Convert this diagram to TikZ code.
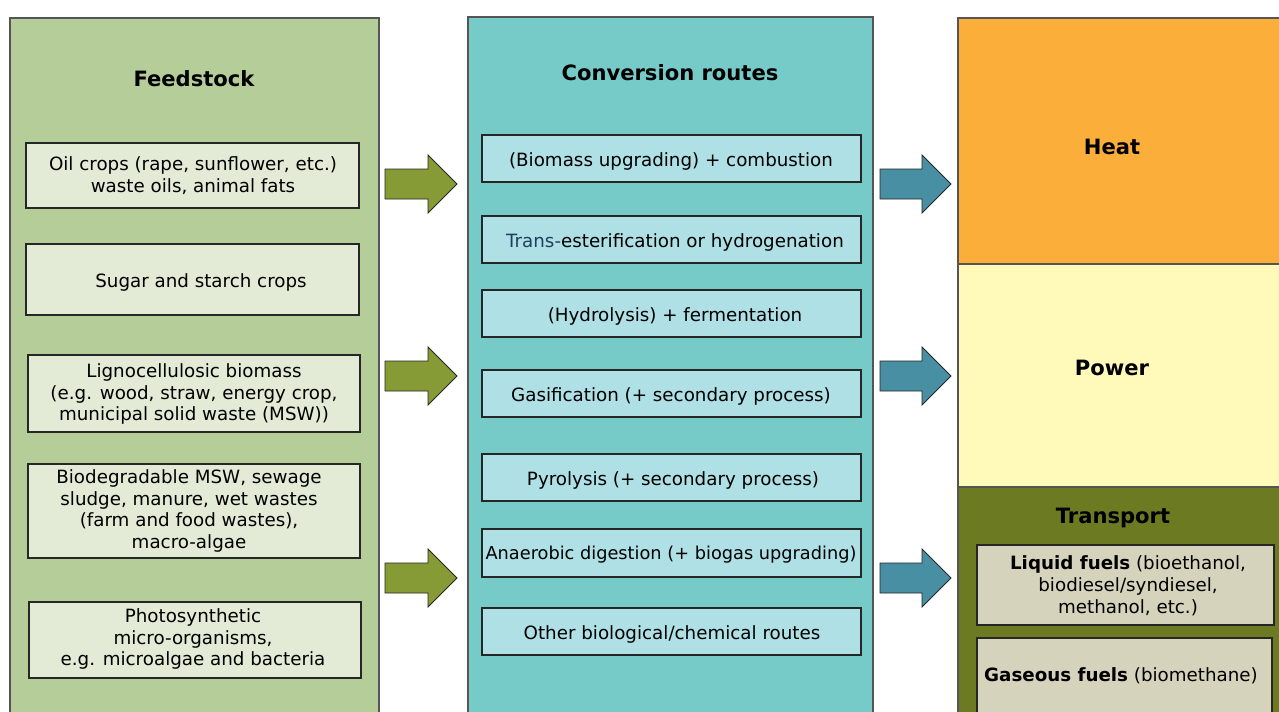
\documentclass[tikz,border=0pt]{standalone}
\usepackage{fontspec}
\setmainfont{DejaVu Sans}
\usetikzlibrary{fit}
\definecolor{fpanel}{HTML}{B5CD99}
\definecolor{fbox}{HTML}{E3EBD6}
\definecolor{cpanel}{HTML}{76CBC8}
\definecolor{cbox}{HTML}{AEE0E5}
\definecolor{heatc}{HTML}{FBAF3A}
\definecolor{powerc}{HTML}{FFF9BA}
\definecolor{transc}{HTML}{6C7A22}
\definecolor{tbox}{HTML}{D6D3BC}
\definecolor{garrow}{HTML}{869B35}
\definecolor{tarrow}{HTML}{488FA3}
\definecolor{transblue}{HTML}{1F3F5F}
\definecolor{edge}{HTML}{555555}
\begin{document}
\begin{tikzpicture}[x=0.02cm,y=-0.02cm,
  panel/.style={draw=edge, line width=0.6pt},
  boxst/.style={draw=black!85, line width=0.6pt, inner sep=0pt},
  txt/.style={inner sep=0pt, align=center, font=\fontsize{10.4}{12.4}\selectfont},
  ttl/.style={font=\fontsize{12}{14}\selectfont\bfseries, inner sep=0pt},
  blockarrow/.style={draw=black!85, line width=0.5pt}]
\useasboundingbox (0,0) rectangle (1279,711);
\clip (0,0) rectangle (1279,711);
% panels
\node[panel, fill=fpanel, fit={(10,18)(379,720)}, inner sep=0pt] (feed) {};
\node[panel, fill=cpanel, fit={(468,17)(873,720)}, inner sep=0pt] (conv) {};
\node[panel, fill=heatc, fit={(958,18)(1290,264)}, inner sep=0pt] (heat) {};
\node[panel, fill=powerc, fit={(958,264)(1290,487)}, inner sep=0pt] (power) {};
\node[panel, fill=transc, fit={(958,487)(1290,720)}, inner sep=0pt] (trans) {};
% titles
\node[ttl] (tfeed) at (194,79) {Feedstock};
\node[ttl] (tconv) at (670,73) {Conversion routes};
\node[ttl] (theat) at (1112,147) {Heat};
\node[ttl] (tpower) at (1112,368) {Power};
\node[ttl] (ttrans) at (1113,518) {Transport};
% feedstock boxes
\node[boxst, fill=fbox, fit={(26,143)(359,208)}] (f1) {};
\node[txt] (f1t) at (193,176) {Oil crops (rape, sunflower, etc.)\\waste oils, animal fats};
\node[boxst, fill=fbox, fit={(26,244)(359,315)}] (f2) {};
\node[txt] (f2t) at (201,282) {Sugar and starch crops};
\node[boxst, fill=fbox, fit={(28,355)(360,432)}] (f3) {};
\node[txt] (f3t) at (194,394) {Lignocellulosic biomass\\(e.g. wood, straw, energy crop,\\municipal solid waste (MSW))};
\node[boxst, fill=fbox, fit={(28,464)(360,558)}] (f4) {};
\node[txt] (f4t) at (189,511) {Biodegradable MSW, sewage\\sludge, manure, wet wastes\\(farm and food wastes),\\macro-algae};
\node[boxst, fill=fbox, fit={(29,602)(361,678)}] (f5) {};
\node[txt] (f5t) at (193,639) {Photosynthetic\\micro-organisms,\\e.g. microalgae and bacteria};
% conversion boxes
\node[boxst, fill=cbox, fit={(482,135)(861,182)}] (c1) {};
\node[txt] (c1t) at (671,161) {(Biomass upgrading) + combustion};
\node[boxst, fill=cbox, fit={(482,216)(861,263)}] (c2) {};
\node[txt] (c2t) at (675,242) {\textcolor{transblue}{Trans-}esterification or hydrogenation};
\node[boxst, fill=cbox, fit={(482,290)(861,337)}] (c3) {};
\node[txt] (c3t) at (675,316) {(Hydrolysis) + fermentation};
\node[boxst, fill=cbox, fit={(482,370)(861,417)}] (c4) {};
\node[txt] (c4t) at (671,396) {Gasification (+ secondary process)};
\node[boxst, fill=cbox, fit={(482,454)(861,501)}] (c5) {};
\node[txt] (c5t) at (673,480) {Pyrolysis (+ secondary process)};
\node[boxst, fill=cbox, fit={(482,529)(861,577)}] (c6) {};
\node[txt, font=\fontsize{10.1}{12.4}\selectfont] (c6t) at (671,555) {Anaerobic digestion (+ biogas upgrading)};
\node[boxst, fill=cbox, fit={(482,608)(861,655)}] (c7) {};
\node[txt] (c7t) at (672,634) {Other biological/chemical routes};
% transport boxes
\node[boxst, fill=tbox, fit={(977,545)(1274,625)}] (t1) {};
\node[txt] (t1t) at (1128,586) {\textbf{Liquid fuels} (bioethanol,\\biodiesel/syndiesel,\\methanol, etc.)};
\node[boxst, fill=tbox, fit={(977,638)(1272,720)}] (t2) {};
\node[txt] (t2t) at (1121,676) {\textbf{Gaseous fuels} (biomethane)};
% block arrows
\foreach \yc in {184,376,578}{
  \draw[blockarrow, fill=garrow, shift={(0,\yc)}]
    (385,-15) -- (428,-15) -- (428,-29) -- (457,0) -- (428,29) -- (428,15) -- (385,15) -- cycle;
  \draw[blockarrow, fill=tarrow, shift={(0,\yc)}]
    (880,-15) -- (922,-15) -- (922,-29) -- (951,0) -- (922,29) -- (922,15) -- (880,15) -- cycle;
}
\end{tikzpicture}
\end{document}
